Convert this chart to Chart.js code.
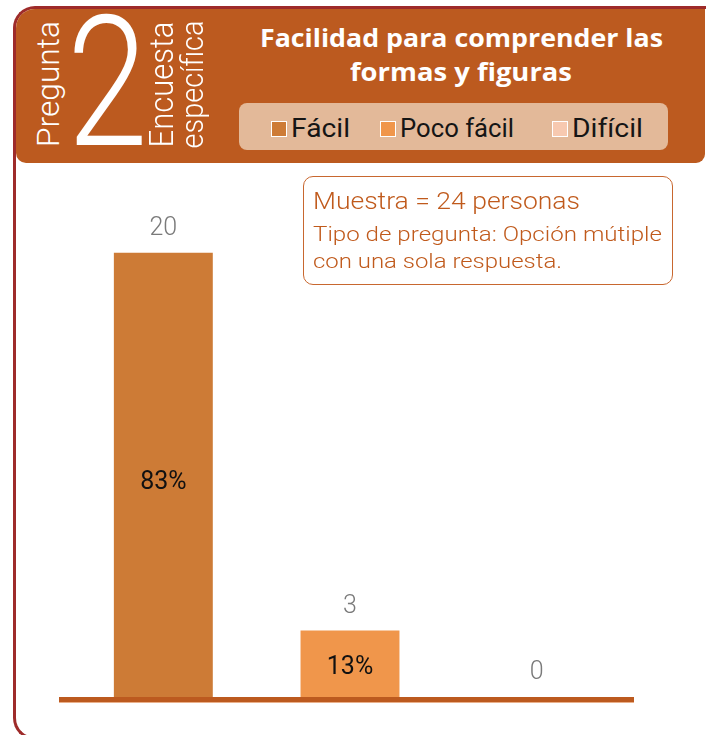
<!DOCTYPE html>
<html>
<head>
<meta charset="utf-8">
<script src="https://cdn.jsdelivr.net/npm/chart.js@4.4.0/dist/chart.umd.min.js"></script>
<style>
  html, body { margin:0; padding:0; background:#fff; }
  #wrap { position:relative; width:706px; height:735px; overflow:hidden; background:#fff; font-family:Roboto, "DejaVu Sans", sans-serif; }
  #frame { position:absolute; left:13px; top:6px; width:720px; height:734px; border-left:3px solid #9e2b2a; border-top:3px solid #9e2b2a; border-bottom:3px solid #9e2b2a; border-radius:22px 0 0 22px; box-sizing:border-box; }
  #band { position:absolute; left:16px; top:9px; width:689px; height:154px; background:#bc5a1f; border-radius:19px 0 9px 10px; }
  .fit { position:absolute; white-space:nowrap; transform-origin:0 0; }
  .rot { position:absolute; white-space:nowrap; color:#fff; font-weight:300; }
  #legendBox { position:absolute; left:239px; top:103px; width:429px; height:47px; background:#e3b999; border-radius:8px; }
  .lg { position:absolute; top:2px; height:47px; line-height:47px; font-size:25px; color:#151515; white-space:nowrap; }
  .lg i { position:absolute; top:16px; width:14px; height:14px; border:1.5px solid #fff; }
  .lg span { display:inline-block; transform-origin:0 50%; }
  #sample { position:absolute; left:303px; top:176px; width:370px; height:109px; border:1.5px solid #c8672f; border-radius:10px; box-sizing:border-box; background:#fff; }
  canvas { position:absolute; left:0; top:0; }
</style>
</head>
<body>
<div id="wrap">
  <canvas id="c" width="706" height="735"></canvas>
  <div id="frame"></div>
  <div id="band"></div>
  <div class="rot" id="pregunta" style="font-size:32px;">Pregunta</div>
  <div class="rot" id="dos" style="font-size:182px;line-height:1;">2</div>
  <div class="rot" id="encuesta" style="font-size:33px;">Encuesta</div>
  <div class="rot" id="especifica" style="font-size:31px;">específica</div>
  <div class="fit" id="t1" style="left:260px;top:20px;font-size:25px;font-weight:700;color:#fff;font-family:'Open Sans',Roboto,sans-serif;" data-w="403">Facilidad para comprender las</div>
  <div class="fit" id="t2" style="left:350px;top:54px;font-size:25px;font-weight:700;color:#fff;font-family:'Open Sans',Roboto,sans-serif;" data-w="222">formas y figuras</div>
  <div id="legendBox"></div>
  <div id="sample"></div>
  <div class="fit" style="left:313px;top:187px;font-size:24px;font-weight:300;color:#c05a1c;" data-w="267">Muestra = 24 personas</div>
  <div class="fit" style="left:313px;top:222px;font-size:21px;font-weight:300;color:#c05a1c;" data-w="349">Tipo de pregunta: Opción mútiple</div>
  <div class="fit" style="left:313px;top:249px;font-size:21px;font-weight:300;color:#c05a1c;" data-w="249">con una sola respuesta.</div>
</div>
<script>
// ---- data ----
const categories = ["Fácil", "Poco fácil", "Difícil"];
const counts = [20, 3, 0];
const percentLabels = ["83%", "13%", ""];
const barColors = ["#cd7b36", "#f0964b", "#f7c9b0"];
const sampleSize = 24;

// ---- legend in header ----
const legendBox = document.getElementById('legendBox');
const legendPos = [32, 141, 313];
const legendTextW = [59, 114, 71];
categories.forEach((c, i) => {
  const d = document.createElement('div');
  d.className = 'lg';
  d.style.left = legendPos[i] + 'px';
  d.innerHTML = '<i style="left:0;background:' + barColors[i] + '"></i><span style="margin-left:20px">' + c + '</span>';
  legendBox.appendChild(d);
  const sp = d.querySelector('span');
  sp.style.transform = 'scaleX(' + (legendTextW[i] / sp.getBoundingClientRect().width) + ')';
});

// ---- fit text widths ----
document.querySelectorAll('.fit').forEach(el => {
  const w = +el.dataset.w;
  if (w) { const s = w / el.getBoundingClientRect().width; el.style.transform = 'scaleX(' + s + ')'; }
});

// rotated header texts
function placeRot(id, cx, cy, len) {
  const el = document.getElementById(id);
  const r = el.getBoundingClientRect();
  const sx = len / r.width;
  el.style.left = (cx - r.width / 2) + 'px';
  el.style.top = (cy - r.height / 2) + 'px';
  el.style.transform = 'rotate(-90deg) scaleX(' + sx + ')';
}
placeRot('pregunta', 48, 84, 126);
placeRot('encuesta', 161, 84, 126);
placeRot('especifica', 193, 84, 128);
(function () {
  const el = document.getElementById('dos');
  const r = el.getBoundingClientRect();
  el.style.left = (107 - r.width / 2) + 'px';
  el.style.top = '-8px';
  el.style.transformOrigin = '50% 0';
  el.style.transform = 'scaleX(0.8)';
})();

// ---- chart ----
const labelsPlugin = {
  id: 'labelsPlugin',
  afterDatasetsDraw(chart) {
    const ctx = chart.ctx;
    const meta = chart.getDatasetMeta(0);
    const base = chart.scales.y.getPixelForValue(0);
    const a = chart.chartArea;
    ctx.save();
    ctx.fillStyle = '#bc5a1f';
    ctx.fillRect(a.left - 11, base, a.right - a.left + 15, 5);
    ctx.fillStyle = '#eab08a';
    ctx.fillRect(a.left - 11, base + 5, a.right - a.left + 15, 1);
    ctx.textAlign = 'center';
    ctx.textBaseline = 'middle';
    meta.data.forEach((bar, i) => {
      ctx.font = '300 25px Roboto';
      ctx.fillStyle = '#7a7a7a';
      ctx.fillText(String(counts[i]), bar.x, bar.y - 24);
      if (percentLabels[i]) {
        ctx.font = '400 25px Roboto';
        ctx.fillStyle = '#111';
        ctx.fillText(percentLabels[i], bar.x, (bar.y + base) / 2 + (i === 0 ? 8 : 4));
      }
    });
    ctx.restore();
  }
};

new Chart(document.getElementById('c'), {
  type: 'bar',
  data: {
    labels: categories,
    datasets: [{ data: counts, backgroundColor: barColors, borderWidth: 0, barPercentage: 0.53, categoryPercentage: 1 }]
  },
  options: {
    responsive: false,
    animation: false,
    events: [],
    layout: { padding: { left: 70, right: 76, top: 164, bottom: 38 } },
    plugins: { legend: { display: false }, tooltip: { enabled: false } },
    scales: {
      x: { display: false },
      y: { display: false, min: 0, max: sampleSize }
    }
  },
  plugins: [labelsPlugin]
});
</script>
</body>
</html>
